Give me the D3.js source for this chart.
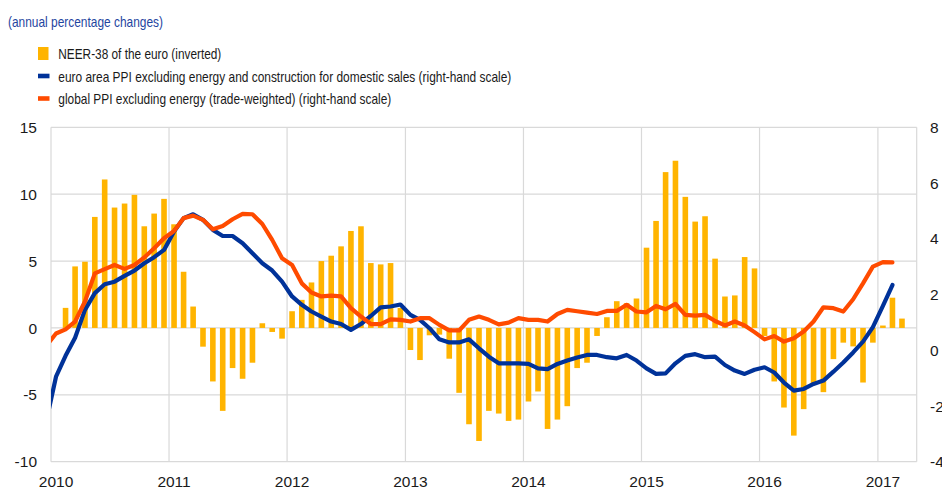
<!DOCTYPE html>
<html>
<head>
<meta charset="utf-8">
<script src="https://cdn.jsdelivr.net/npm/d3@7"></script>
<style>
  body { margin: 0; background: #fff; }
  svg { display: block; }
  text { font-family: Arial, "Liberation Sans", sans-serif; }
</style>
</head>
<body>
<svg id="chart" width="942" height="489"></svg>
<script>
// --- data ---
// NEER-38 of the euro (inverted), monthly from Jan 2010, left-hand scale
const neerStart = [2010, 0];
const neer = [
  0, 1.5, 4.6, 4.95, 8.3, 11.1, 9.0, 9.3, 9.95, 7.6, 8.55, 9.65,
  7.75, 4.2, 1.6, -1.4, -4.0, -6.2, -3.0, -3.8, -2.6, 0.35, -0.3, -0.8,
  1.25, 2.1, 3.4, 5.0, 5.4, 6.1, 7.25, 7.6, 4.85, 4.75, 4.85, 1.5,
  -1.65, -2.4, -0.55, -0.5, -2.3, -4.85, -7.2, -8.45, -6.2, -6.4, -6.95, -6.85,
  -5.5, -4.75, -7.55, -6.85, -5.85, -3.0, -2.6, -0.6, 0.8, 2.0, 1.85, 2.2,
  6.0, 8.0, 11.65, 12.5, 9.8, 7.95, 8.35, 5.18, 2.35, 2.43, 5.3, 4.45,
  -0.6, -4.0, -5.95, -8.05, -6.07, -4.25, -4.8, -2.33, -1.1, -1.38, -4.08, -1.1,
  0.18, 2.26, 0.7
];

// PPI lines, monthly from Dec 2009, right-hand scale
const lineStart = [2009, 11];
const euroPPI = [
  -2.6,
  -0.95, -0.2, 0.45, 1.45, 2.05, 2.37, 2.46, 2.67, 2.86, 3.12, 3.34, 3.6,
  4.26, 4.74, 4.88, 4.68, 4.32, 4.1, 4.1, 3.84, 3.48, 3.12, 2.86, 2.46,
  1.93, 1.63, 1.39, 1.21, 1.03, 0.94, 0.73, 0.94, 1.23, 1.54, 1.57, 1.64,
  1.27, 1.09, 0.79, 0.39, 0.28, 0.28, 0.39, 0.07, -0.23, -0.47, -0.47, -0.47,
  -0.49, -0.65, -0.68, -0.49, -0.37, -0.26, -0.17, -0.17, -0.25, -0.29, -0.17, -0.37,
  -0.65, -0.85, -0.83, -0.47, -0.2, -0.14, -0.25, -0.23, -0.53, -0.73, -0.85, -0.7,
  -0.61, -0.8, -1.16, -1.45, -1.39, -1.21, -1.09, -0.77, -0.44, -0.08, 0.31, 0.83,
  1.59, 2.34
];
const globalPPI = [
  0.15,
  0.6, 0.75, 1.03, 1.75, 2.76, 2.91, 3.06, 2.92, 3.06, 3.33, 3.66, 4.02,
  4.28, 4.74, 4.83, 4.68, 4.34, 4.46, 4.7, 4.89, 4.88, 4.53, 3.96, 3.3,
  3.06, 2.4, 2.07, 1.93, 1.96, 1.93, 1.51, 1.21, 0.94, 0.94, 1.11, 1.09,
  1.03, 1.15, 1.15, 0.91, 0.71, 0.71, 1.09, 1.21, 1.09, 0.93, 0.99, 1.15,
  1.09, 1.09, 1.03, 1.3, 1.45, 1.4, 1.35, 1.3, 1.41, 1.41, 1.63, 1.39,
  1.36, 1.59, 1.47, 1.66, 1.27, 1.24, 1.27, 1.05, 0.89, 1.03, 0.89, 0.65,
  0.39, 0.51, 0.31, 0.43, 0.67, 1.03, 1.54, 1.51, 1.39, 1.83, 2.4, 3.0,
  3.16, 3.15
];

const leftTicks = [-10, -5, 0, 5, 10, 15];
const rightTicks = [-4, -2, 0, 2, 4, 6, 8];
const yearTicks = [2010, 2011, 2012, 2013, 2014, 2015, 2016, 2017];

const title = "(annual percentage changes)";
const legendItems = [
  { label: "NEER-38 of the euro (inverted)", type: "bar", color: "#FFB400", width: 163 },
  { label: "euro area PPI excluding energy and construction for domestic sales (right-hand scale)", type: "line", color: "#003299", width: 453 },
  { label: "global PPI excluding energy (trade-weighted) (right-hand scale)", type: "line", color: "#FF4B00", width: 333 }
];

// --- layout ---
const svg = d3.select("#chart");
const plot = { left: 51, right: 916.7, top: 127.3, bottom: 461.7 };

const x = d3.scaleTime()
  .domain([new Date(2010, 0, 1), new Date(2017, 4, 1)])
  .range([plot.left, plot.right]);
const yLeft = d3.scaleLinear().domain([-10, 15]).range([plot.bottom, plot.top]);
const yRight = d3.scaleLinear().domain([-4, 8]).range([plot.bottom, plot.top]);

// centre of a month, counted from a [year, month] start
function midMonth(start, i) {
  const a = new Date(start[0], start[1] + i, 1);
  const b = new Date(start[0], start[1] + i + 1, 1);
  return (x(a) + x(b)) / 2;
}

// --- title & legend ---
svg.append("text")
  .attr("x", 8).attr("y", 27)
  .attr("font-size", 15)
  .attr("fill", "#1f45a0")
  .attr("textLength", 155)
  .attr("lengthAdjust", "spacingAndGlyphs")
  .text(title);

const legend = svg.append("g");
legendItems.forEach((d, i) => {
  const cy = 53.5 + i * 22.5;
  if (d.type === "bar") {
    legend.append("rect").attr("x", 38).attr("y", cy - 6.5).attr("width", 10.5).attr("height", 13).attr("fill", d.color);
  } else {
    legend.append("rect").attr("x", 38).attr("y", cy - 2.3).attr("width", 11.5).attr("height", 4.6).attr("fill", d.color);
  }
  legend.append("text")
    .attr("x", 58.3).attr("y", cy + 5.5)
    .attr("font-size", 14.5)
    .attr("fill", "#1a1a1a")
    .attr("textLength", d.width)
    .attr("lengthAdjust", "spacingAndGlyphs")
    .text(d.label);
});

// --- grid ---
const grid = svg.append("g").attr("stroke", "#d9d9d9").attr("stroke-width", 1.2);
grid.selectAll("line.h").data(leftTicks).enter().append("line")
  .attr("x1", plot.left).attr("x2", plot.right)
  .attr("y1", d => yLeft(d)).attr("y2", d => yLeft(d));
grid.selectAll("line.v").data(yearTicks).enter().append("line")
  .attr("y1", plot.top).attr("y2", plot.bottom)
  .attr("x1", d => x(new Date(d, 0, 1))).attr("x2", d => x(new Date(d, 0, 1)));
grid.append("line")
  .attr("x1", plot.right).attr("x2", plot.right)
  .attr("y1", plot.top).attr("y2", plot.bottom);

// --- axes labels ---
const labelColor = "#1a1a1a";
svg.append("g").selectAll("text").data(leftTicks).enter().append("text")
  .attr("x", 37).attr("y", d => yLeft(d)).attr("dy", "0.36em")
  .attr("text-anchor", "end").attr("font-size", 15.5).attr("fill", labelColor)
  .text(d => d);
svg.append("g").selectAll("text").data(rightTicks).enter().append("text")
  .attr("x", 930).attr("y", d => yRight(d)).attr("dy", "0.36em")
  .attr("text-anchor", "start").attr("font-size", 15.5).attr("fill", labelColor)
  .text(d => d);
svg.append("g").selectAll("text").data(yearTicks).enter().append("text")
  .attr("x", d => midMonth([d, 0], 0)).attr("y", 486.5)
  .attr("text-anchor", "middle").attr("font-size", 15.5).attr("fill", labelColor)
  .text(d => d);

// --- bars ---
const barW = 5.6;
svg.append("g").selectAll("rect").data(neer).enter().append("rect")
  .attr("x", (d, i) => midMonth(neerStart, i) - barW / 2)
  .attr("y", d => yLeft(Math.max(0, d)))
  .attr("width", barW)
  .attr("height", d => Math.abs(yLeft(d) - yLeft(0)))
  .attr("fill", "#FFB400");

// --- lines ---
svg.append("clipPath").attr("id", "plot-clip")
  .append("rect")
  .attr("x", plot.left).attr("y", plot.top)
  .attr("width", plot.right - plot.left).attr("height", plot.bottom - plot.top);

const line = d3.line()
  .x((d, i) => midMonth(lineStart, i))
  .y(d => yRight(d));

[[euroPPI, "#003299"], [globalPPI, "#FF4B00"]].forEach(([series, color]) => {
  svg.append("path")
    .datum(series)
    .attr("clip-path", "url(#plot-clip)")
    .attr("fill", "none")
    .attr("stroke", color)
    .attr("stroke-width", 4.2)
    .attr("stroke-linejoin", "round")
    .attr("stroke-linecap", "round")
    .attr("d", line);
});
</script>
</body>
</html>
